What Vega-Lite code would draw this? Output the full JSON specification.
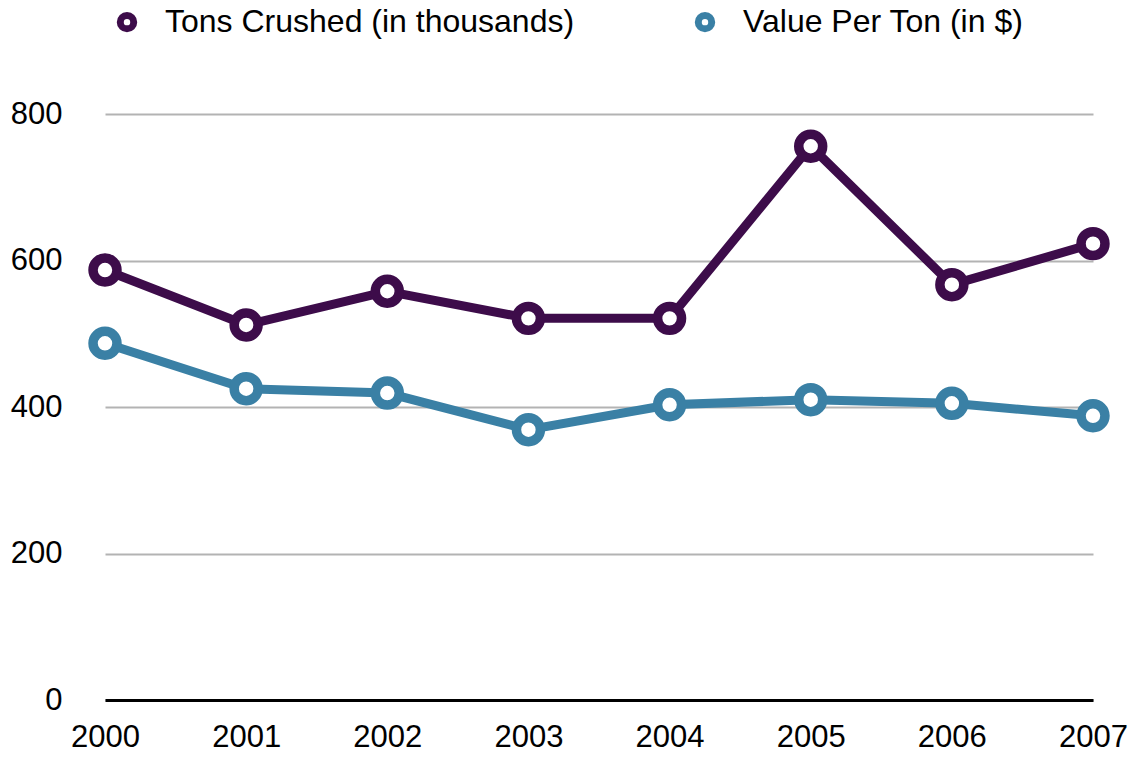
{
  "$schema": "https://vega.github.io/schema/vega-lite/v6.json",
  "width": 988,
  "height": 586,
  "autosize": "none",
  "padding": {"left": 105, "top": 114, "right": 45, "bottom": 59},
  "background": "white",
  "config": {"font": "Liberation Sans", "view": {"stroke": null}},
  "data": {
    "values": [
      {"year": "2000", "series": "Tons Crushed (in thousands)", "value": 587},
      {"year": "2001", "series": "Tons Crushed (in thousands)", "value": 512},
      {"year": "2002", "series": "Tons Crushed (in thousands)", "value": 558},
      {"year": "2003", "series": "Tons Crushed (in thousands)", "value": 521},
      {"year": "2004", "series": "Tons Crushed (in thousands)", "value": 521},
      {"year": "2005", "series": "Tons Crushed (in thousands)", "value": 756},
      {"year": "2006", "series": "Tons Crushed (in thousands)", "value": 567},
      {"year": "2007", "series": "Tons Crushed (in thousands)", "value": 623},
      {"year": "2000", "series": "Value Per Ton (in $)", "value": 487},
      {"year": "2001", "series": "Value Per Ton (in $)", "value": 425},
      {"year": "2002", "series": "Value Per Ton (in $)", "value": 419},
      {"year": "2003", "series": "Value Per Ton (in $)", "value": 369},
      {"year": "2004", "series": "Value Per Ton (in $)", "value": 403},
      {"year": "2005", "series": "Value Per Ton (in $)", "value": 410},
      {"year": "2006", "series": "Value Per Ton (in $)", "value": 405},
      {"year": "2007", "series": "Value Per Ton (in $)", "value": 388}
    ]
  },
  "encoding": {
    "x": {
      "field": "year", "type": "ordinal",
      "scale": {"type": "point", "padding": 0},
      "axis": {"labelAngle": 0, "title": null, "labelFontSize": 31, "labelColor": "black", "labelPadding": 22, "ticks": false, "domainColor": "black", "domainWidth": 3, "grid": false, "zindex": 1}
    },
    "y": {
      "field": "value", "type": "quantitative",
      "scale": {"domain": [0, 800]},
      "axis": {"values": [0, 200, 400, 600, 800], "title": null, "labelFontSize": 31, "labelColor": "black", "labelPadding": 43, "ticks": false, "domain": false, "gridColor": "#b3b3b3", "gridWidth": 2}
    },
    "color": {
      "field": "series", "type": "nominal",
      "scale": {"domain": ["Tons Crushed (in thousands)", "Value Per Ton (in $)"], "range": ["#3d0c4a", "#3a80a5"]},
      "legend": {
        "title": null, "orient": "none", "direction": "horizontal",
        "legendX": 6, "legendY": -108,
        "symbolType": "circle", "symbolSize": 180, "symbolStrokeWidth": 7, "symbolFillColor": "white",
        "labelFontSize": 32, "labelColor": "black", "labelOffset": 22, "columnPadding": 109, "labelLimit": 600
      }
    }
  },
  "layer": [
    {"mark": {"type": "line", "strokeWidth": 9}},
    {"mark": {"type": "point", "filled": false, "fill": "white", "fillOpacity": 1, "opacity": 1, "size": 573, "strokeWidth": 9.5}}
  ]
}
